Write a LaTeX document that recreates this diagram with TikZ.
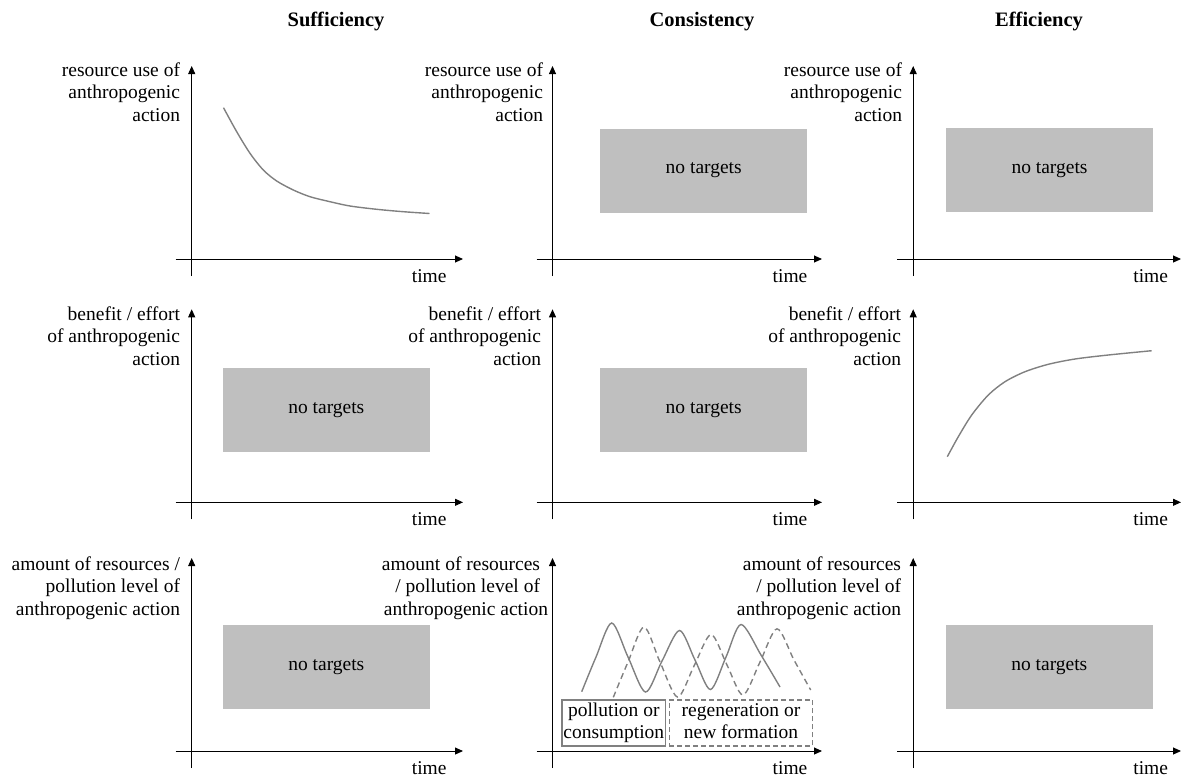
\documentclass[tikz,border=0pt]{standalone}
\usepackage{fontspec}
\setmainfont{LiberationSerif-Regular.ttf}[BoldFont=LiberationSerif-Bold.ttf, ItalicFont=LiberationSerif-Italic.ttf]
\usetikzlibrary{arrows.meta}
\definecolor{boxgray}{HTML}{BFBFBF}
\definecolor{curvegray}{HTML}{808080}
\newcommand\lbl[1]{\begin{tabular}[t]{@{}r@{}}#1\end{tabular}}
\newcommand\cbl[1]{\begin{tabular}{@{}c@{}}#1\end{tabular}}
\tikzset{
  every node/.style={font=\rmfamily\fontsize{19.5}{22.8}\selectfont, inner sep=0pt, outer sep=0pt},
  axisline/.style={line width=0.9pt, -{Triangle[length=8pt,width=7pt]}},
  timelbl/.style={anchor=base},
  ylbl/.style={anchor=base east},
  header/.style={anchor=base, font=\rmfamily\fontsize{20.5}{24}\selectfont\bfseries},
  notgt/.style={fill=boxgray, minimum width=206.5, minimum height=84},
  curve/.style={draw=curvegray, line width=1.4pt},
  wavedash/.style={curve, dash pattern=on 6pt off 4pt},
  legsolid/.style={draw=curvegray, line width=1.3pt, minimum height=46},
  legdash/.style={draw=curvegray, line width=1.3pt, minimum height=46, dash pattern=on 5pt off 3pt},
}
% #1 name, #2 y-axis x, #3 x-axis y, #4 x-axis tip x
\newcommand\drawaxes[4]{%
  \coordinate (#1-xs) at ({#2-16},#3);
  \coordinate (#1-xe) at (#4,#3);
  \coordinate (#1-ys) at (#2,{#3+17});
  \coordinate (#1-ye) at (#2,{#3-193});
  \draw[axisline] (#1-xs) -- (#1-xe);
  \draw[axisline] (#1-ys) -- (#1-ye);
  \node[timelbl] (#1-t) at ({#2+237.5},{#3+23}) {time};
}
\begin{document}
\begin{tikzpicture}[x=1pt,y=-1pt]
\useasboundingbox (0,0) rectangle (1182,777);

% headers
\node[header] (hs) at (336,26) {Sufficiency};
\node[header] (hc) at (702,26) {Consistency};
\node[header] (he) at (1039,26) {Efficiency};

% axes
\drawaxes{a11}{191.7}{259}{463}
\drawaxes{a12}{552.5}{259}{822}
\drawaxes{a13}{913.2}{259}{1181}
\drawaxes{a21}{191.7}{502.3}{463}
\drawaxes{a22}{552.5}{502.3}{822}
\drawaxes{a23}{913.2}{502.3}{1181}
\drawaxes{a31}{191.7}{751}{463}
\drawaxes{a32}{552.5}{751}{822}
\drawaxes{a33}{913.2}{751}{1181}

% y labels
\node[ylbl] (l11) at (180,76) {\lbl{resource use of\\anthropogenic\\action}};
\node[ylbl] (l12) at (543,76) {\lbl{resource use of\\anthropogenic\\action}};
\node[ylbl] (l13) at (902,76) {\lbl{resource use of\\anthropogenic\\action}};
\node[ylbl] (l21) at (180,320) {\lbl{benefit / effort\\of anthropogenic\\action}};
\node[ylbl] (l22) at (541,320) {\lbl{benefit / effort\\of anthropogenic\\action}};
\node[ylbl] (l23) at (901,320) {\lbl{benefit / effort\\of anthropogenic\\action}};
\node[ylbl] (l31) at (180,570) {\lbl{amount of resources /\\pollution level of\\anthropogenic action}};
\node[ylbl] (l32) at (540,570) {\lbl{amount of resources\\/ pollution level of\\anthropogenic action\hspace*{-8pt}}};
\node[ylbl] (l33) at (901,570) {\lbl{amount of resources\\/ pollution level of\\anthropogenic action}};

% no-target boxes
\node[notgt] (b12) at (703.7,170.5) {no targets};
\node[notgt] (b13) at (1049.5,170.3) {no targets};
\node[notgt] (b21) at (326.3,410) {no targets};
\node[notgt] (b22) at (703.7,410) {no targets};
\node[notgt] (b31) at (326.3,667) {no targets};
\node[notgt] (b33) at (1049.3,667) {no targets};

% sufficiency curve (decreasing)
\draw[curve] plot[smooth] coordinates {(223.5,107.7) (236.7,131.7) (250,153.3) (263.3,170) (276.7,181) (293.3,190) (310,196.7) (330,201.7) (350,206) (376.7,209.3) (403.3,211.7) (429.5,213.5)};

% efficiency curve (increasing)
\draw[curve] plot[smooth] coordinates {(947.3,456.7) (958.3,436.7) (971.7,415) (988.3,395) (1005,381.7) (1025,371.7) (1048.3,364.3) (1075,359) (1108.3,355) (1151.7,350.7)};

% consistency waves
\draw[curve] plot[smooth] coordinates {(581.7,691.7) (596,657) (611.7,623) (628,657) (645.5,692) (662,661) (679.5,630.5) (695,660) (710.5,689.5) (726,657) (741,624.5) (761,655) (780,687)};
\draw[wavedash] plot[smooth] coordinates {(613.3,697.3) (628,662) (644,627) (660,662) (677.5,697) (694,666) (711,634.5) (727,665) (743,695) (760,662) (777,628.8) (794,660) (810.7,690)};

% legend boxes
\node[legsolid, minimum width=103.5] (lp) at (613.8,723) {\cbl{pollution or\\consumption}};
\node[legdash, minimum width=143.4] (lr) at (741,723) {\cbl{regeneration or\\new formation}};
\end{tikzpicture}
\end{document}
